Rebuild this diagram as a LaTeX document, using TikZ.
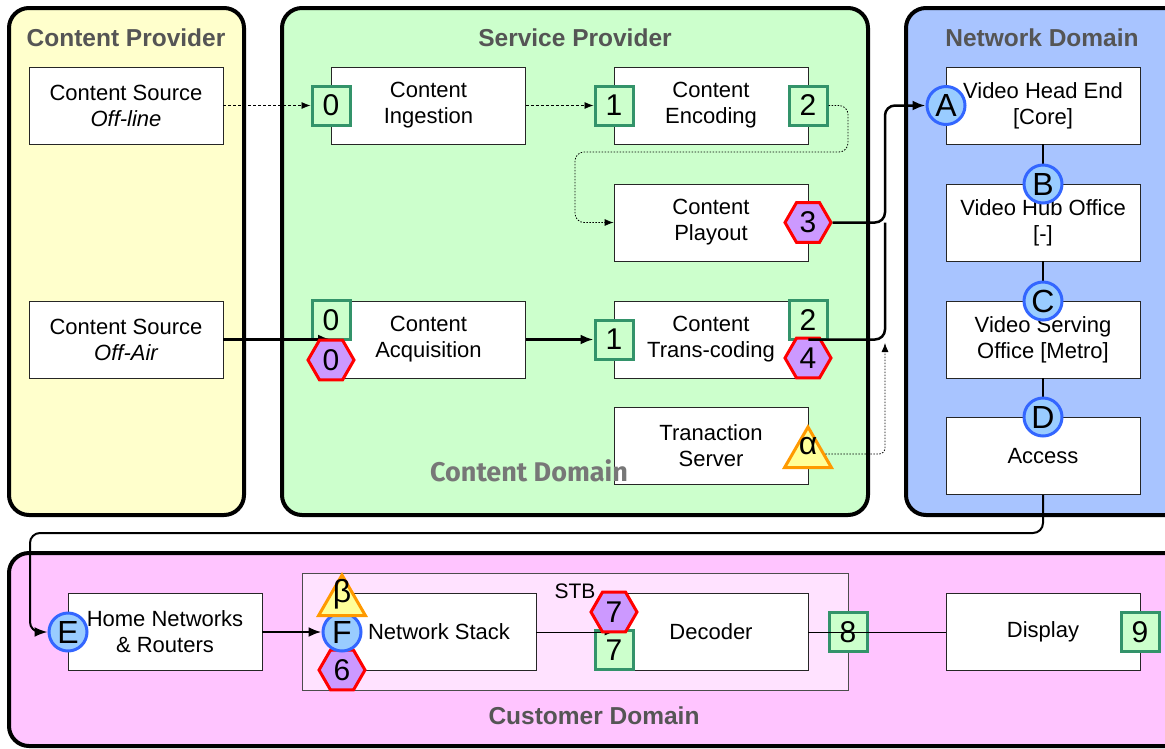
\documentclass[tikz,border=0pt]{standalone}
\usepackage{fontspec}
\setmainfont{Liberation Sans}
\newfontfamily\domfont{Fira Sans}
\usetikzlibrary{shapes.geometric,arrows.meta}
\definecolor{pY}{HTML}{FFFFCC}
\definecolor{pG}{HTML}{CCFFCC}
\definecolor{pB}{HTML}{A8C4FF}
\definecolor{pP}{HTML}{FFC4FF}
\definecolor{stbF}{HTML}{FFE2FF}
\definecolor{ttl}{HTML}{555555}
\definecolor{sqB}{HTML}{33936A}
\definecolor{sqF}{HTML}{CCFFCC}
\definecolor{hxF}{HTML}{CC99FF}
\definecolor{cB}{HTML}{3366FF}
\definecolor{cF}{HTML}{99CCFF}
\definecolor{tB}{HTML}{FF9900}
\definecolor{tF}{HTML}{FFFF99}
\definecolor{domgray}{HTML}{777777}
\newcommand{\bglyph}[1]{\makebox[0pt]{\smash{#1}}}
\tikzset{
  panel/.style={draw=black, line width=4, rounded corners=20},
  ptitle/.style={font=\bfseries\fontsize{24.5}{28}\selectfont, text=ttl, inner sep=0},
  box/.style={draw=black!85, fill=white, line width=0.8, minimum width=194, minimum height=77, align=center, inner sep=0, font=\fontsize{22}{26}\selectfont},
  badge/.style={inner sep=0, line width=3, font=\fontsize{30}{30}\selectfont},
  sq/.style={badge, rectangle, draw=sqB, fill=sqF, minimum width=38, minimum height=39},
  hx/.style={badge, regular polygon, regular polygon sides=6, draw=red, fill=hxF, minimum size=46},
  cc/.style={badge, circle, draw=cB, fill=cF, minimum size=38, font=\fontsize{32}{32}\selectfont},
  tr/.style={badge, regular polygon, regular polygon sides=3, draw=tB, fill=tF, minimum size=54, font=\fontsize{32}{32}\selectfont},
  thickarrow/.style={line width=2.5, -{Latex[length=13,width=10]}},
  thickline/.style={line width=2.5},
  dashline/.style={line width=0.8, dash pattern=on 3pt off 2pt, -{Latex[length=9,width=7]}},
  dotline/.style={line width=0.8, dash pattern=on 1.5pt off 1.5pt, -{Latex[length=9,width=7]}},
}
\begin{document}
\begin{tikzpicture}[x=1pt,y=-1pt]
\clip (0,0) rectangle (1165,748);
\fill[white] (0,0) rectangle (1165,748);
% panels
\draw[panel, fill=pY] (9,8) rectangle (244,515);
\draw[panel, fill=pG] (282,8) rectangle (868,515);
\draw[panel, fill=pB] (906,8) rectangle (1200,515);
\draw[panel, fill=pP] (9,553) rectangle (1200,746);
\node[ptitle] (tcp) at (126,38) {Content Provider};
\node[ptitle] (tsp) at (575,38) {Service Provider};
\node[ptitle] (tnd) at (1042,38) {Network Domain};
\node[ptitle] (tcd) at (594,716) {Customer Domain};
% STB
\node[draw=black!70, fill=stbF, line width=0.8, minimum width=546, minimum height=117, inner sep=0] (stb) at (575,631.5) {};
\node[font=\fontsize{21}{24}\selectfont, inner sep=0] (stbl) at (575,591) {STB};
% coordinates
\coordinate (jx) at (885,0);
\coordinate (jdot) at (885,343);
\coordinate (rtop) at (848,152);
\coordinate (rleft) at (575,152);
\coordinate (acc1) at (1043,533);
\coordinate (acc2) at (30,533);
% boxes
\node[box] (cso) at (126,105.5) {Content Source\\\itshape Off-line};
\node[box] (csa) at (126,339.5) {Content Source\\\itshape Off-Air};
\node[box] (ing) at (428.5,105.5) {Content\\Ingestion};
\node[box] (enc) at (711,105.5) {Content\\Encoding};
\node[box] (ply) at (711,222.5) {Content\\Playout};
\node[box] (acq) at (428.5,339.5) {Content\\Acquisition};
\node[box] (trc) at (711,339.5) {Content\\Trans-coding};
\node[box] (trs) at (711,446) {Tranaction\\Server};
\node[box] (vhe) at (1043,105.5) {Video Head End\\{[Core]}};
\node[box] (vho) at (1043,222.5) {Video Hub Office\\{[-]}};
\node[box] (vso) at (1043,339.5) {Video Serving\\Office [Metro]};
\node[box] (acc) at (1043,456) {Access};
\node[box] (hnr) at (165,632) {Home Networks\\\& Routers};
\node[box] (nst) at (439,632) {Network Stack};
\node[box] (dec) at (711,632) {Decoder};
\node[box] (dsp) at (1043,632) {Display};
\node[font=\domfont\bfseries\fontsize{27}{30}\selectfont, text=domgray, inner sep=0] (tdom) at (529,471) {Content Domain};
% badges
\node[sq] (s0a) at (331,105.5) {0};
\node[sq] (s1a) at (614,105.5) {1};
\node[sq] (s2a) at (808,105.5) {2};
\node[sq] (s0b) at (331,320) {0};
\node[sq] (s1b) at (614,339.5) {1};
\node[sq] (s2b) at (808,320) {2};
\node[sq] (s7) at (614,650) {7};
\node[sq] (s8) at (848,632) {8};
\node[sq] (s9) at (1140,632) {9};
% connectors
\draw[dashline] (cso.east) -- (s0a.west);
\draw[dashline] (ing.east) -- (s1a.west);
\draw[dotline, rounded corners=9] (s2a.east) -| (rtop) -- (rleft) |- (ply.west);
\draw[thickarrow] (csa.east) -- (acq.west);
\draw[thickarrow] (acq.east) -- (s1b.west);
\draw[thickline, line width=2] (vhe.south) -- (vho.north);
\draw[thickline, line width=2] (vho.south) -- (vso.north);
\draw[thickline, line width=2] (vso.south) -- (acc.north);
\draw[line width=0.8, -{Latex[length=9,width=7]}] (nst.east) -- (dec.west);
\draw[line width=0.8] (dec.east) -- (dsp.west);
% circles, hexagons, triangles
\node[hx] (h0) at (331,360) {0};
\node[hx] (h3) at (808,222.5) {3};
\node[hx] (h4) at (808,358) {4};
\node[hx] (h6) at (342,670) {6};
\node[hx] (h7) at (614,612) {7};
\node[cc] (cA) at (946,105.5) {A};
\node[cc] (cB) at (1043,184) {B};
\node[cc] (cC) at (1043,301) {C};
\node[cc] (cD) at (1043,417) {D};
\node[cc] (cE) at (68,632) {E};
\node[cc] (cF) at (342,632) {F};
\node[tr] (ta) at (808,454) {\bglyph{α}};
\node[tr] (tb) at (342,602) {\bglyph{β}};
% network connectors
\draw[thickline, rounded corners=10, -{Latex[length=13,width=10]}] (h3.east) -| (jx |- cA) -- (cA.west);
\draw[thickline, rounded corners=10] (trc.east) -- (trc.east -| jx) -- (h3.east -| jx);
\draw[dotline, rounded corners=6] (ta.east) -| (jdot);
\draw[line width=2, rounded corners=10, -{Latex[length=13,width=10]}] (acc.south) -- (acc1) -- (acc2) |- (cE.west);
\draw[thickarrow] (hnr.east) -- (cF.west);
\end{tikzpicture}
\end{document}
